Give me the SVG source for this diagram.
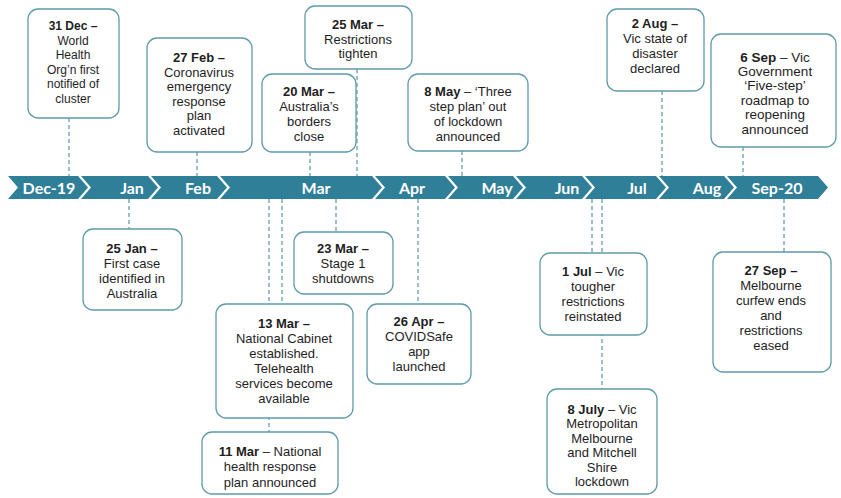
<svg xmlns="http://www.w3.org/2000/svg" width="841" height="498" viewBox="0 0 841 498">
<style>
.seg{fill:#2f7f98}
.mon{font-family:Lato,"Liberation Sans",sans-serif;font-weight:bold;font-size:16px;fill:#ffffff;text-anchor:middle}
.box{fill:#ffffff;stroke:#5f9aaa;stroke-width:1.3}
.t{font-family:"Liberation Sans",Arial,sans-serif;font-size:13px;fill:#1e1e1e;text-anchor:middle}
.b{font-weight:bold}
.c{stroke:#3a7f95;stroke-width:1;stroke-dasharray:4 3;fill:none}
</style>
<rect width="841" height="498" fill="#ffffff"/>
<g id="connectors">
<line class="c" x1="69" y1="118" x2="69" y2="176"/>
<line class="c" x1="197" y1="152" x2="197" y2="176"/>
<line class="c" x1="310" y1="152" x2="310" y2="176"/>
<line class="c" x1="357" y1="69" x2="357" y2="176"/>
<line class="c" x1="462" y1="151" x2="462" y2="176"/>
<line class="c" x1="662" y1="91" x2="662" y2="176"/>
<line class="c" x1="743" y1="147" x2="743" y2="176"/>
<line class="c" x1="129" y1="199" x2="129" y2="229"/>
<line class="c" x1="336" y1="199" x2="336" y2="232"/>
<line class="c" x1="269" y1="199" x2="269" y2="432"/>
<line class="c" x1="282" y1="199" x2="282" y2="304"/>
<line class="c" x1="418" y1="199" x2="418" y2="304"/>
<line class="c" x1="592" y1="199" x2="592" y2="253"/>
<line class="c" x1="602" y1="199" x2="602" y2="389"/>
<line class="c" x1="784" y1="199" x2="784" y2="252"/>
</g>
<g id="timeline">
<polygon class="seg" points="8,176 78,176 88,187.5 78,199 8,199 18,187.5"/>
<polygon class="seg" points="81,176 148,176 158,187.5 148,199 81,199 91,187.5"/>
<polygon class="seg" points="151,176 217,176 227,187.5 217,199 151,199 161,187.5"/>
<polygon class="seg" points="220,176 372,176 382,187.5 372,199 220,199 230,187.5"/>
<polygon class="seg" points="375,176 445,176 455,187.5 445,199 375,199 385,187.5"/>
<polygon class="seg" points="448,176 513,176 523,187.5 513,199 448,199 458,187.5"/>
<polygon class="seg" points="516,176 582,176 592,187.5 582,199 516,199 526,187.5"/>
<polygon class="seg" points="585,176 656,176 666,187.5 656,199 585,199 595,187.5"/>
<polygon class="seg" points="659,176 724,176 734,187.5 724,199 659,199 669,187.5"/>
<polygon class="seg" points="727,176 818,176 828,187.5 818,199 727,199 737,187.5"/>
<text class="mon" x="49" y="193.5">Dec-19</text>
<text class="mon" x="132" y="193.5">Jan</text>
<text class="mon" x="198" y="193.5">Feb</text>
<text class="mon" x="316" y="193.5">Mar</text>
<text class="mon" x="412" y="193.5">Apr</text>
<text class="mon" x="497" y="193.5">May</text>
<text class="mon" x="567" y="193.5">Jun</text>
<text class="mon" x="637" y="193.5">Jul</text>
<text class="mon" x="707" y="193.5">Aug</text>
<text class="mon" x="777" y="193.5">Sep-20</text>
</g>
<g id="n31dec">
<rect class="box" x="28" y="9" width="91" height="109" rx="10"/>
<text class="t" x="73" y="30" style="font-size:12px"><tspan class="b">31 Dec –</tspan><tspan x="73" dy="14.5">World</tspan><tspan x="73" dy="14.5">Health</tspan><tspan x="73" dy="14.5">Org’n first</tspan><tspan x="73" dy="14.5">notified of</tspan><tspan x="73" dy="14.5">cluster</tspan></text>
</g>
<g id="n27feb">
<rect class="box" x="147" y="38" width="105" height="114" rx="10"/>
<text class="t" x="199" y="62"><tspan class="b">27 Feb –</tspan><tspan x="199" dy="14.5">Coronavirus</tspan><tspan x="199" dy="14.5">emergency</tspan><tspan x="199" dy="14.5">response</tspan><tspan x="199" dy="14.5">plan</tspan><tspan x="199" dy="14.5">activated</tspan></text>
</g>
<g id="n20mar">
<rect class="box" x="262" y="74" width="94" height="78" rx="10"/>
<text class="t" x="309" y="95.5"><tspan class="b">20 Mar –</tspan><tspan x="309" dy="15">Australia’s</tspan><tspan x="309" dy="15">borders</tspan><tspan x="309" dy="15">close</tspan></text>
</g>
<g id="n25mar">
<rect class="box" x="305" y="6" width="107" height="63" rx="10"/>
<text class="t" x="358" y="28.5"><tspan class="b">25 Mar –</tspan><tspan x="358" dy="15">Restrictions</tspan><tspan x="358" dy="14.5">tighten</tspan></text>
</g>
<g id="n8may">
<rect class="box" x="408" y="74" width="120" height="77" rx="10"/>
<text class="t" x="468" y="95.5"><tspan class="b">8 May</tspan> – ‘Three<tspan x="468" dy="15">step plan’ out</tspan><tspan x="468" dy="15">of lockdown</tspan><tspan x="468" dy="15">announced</tspan></text>
</g>
<g id="n2aug">
<rect class="box" x="607" y="9" width="97" height="82" rx="10"/>
<text class="t" x="655" y="28"><tspan class="b">2 Aug –</tspan><tspan x="655" dy="15">Vic state of</tspan><tspan x="655" dy="15">disaster</tspan><tspan x="655" dy="15">declared</tspan></text>
</g>
<g id="n6sep">
<rect class="box" x="711" y="34" width="125" height="113" rx="10"/>
<text class="t" x="775" y="61.5" style="font-size:13.5px"><tspan class="b">6 Sep</tspan> – Vic<tspan x="775" dy="14.4">Government</tspan><tspan x="775" dy="14.4">‘Five-step’</tspan><tspan x="775" dy="14.4">roadmap to</tspan><tspan x="775" dy="14.4">reopening</tspan><tspan x="775" dy="14.4">announced</tspan></text>
</g>
<g id="n25jan">
<rect class="box" x="83" y="229" width="99" height="81" rx="10"/>
<text class="t" x="132" y="252.5"><tspan class="b">25 Jan –</tspan><tspan x="132" dy="15">First case</tspan><tspan x="132" dy="15">identified in</tspan><tspan x="132" dy="15">Australia</tspan></text>
</g>
<g id="n23mar">
<rect class="box" x="294" y="232" width="99" height="62" rx="10"/>
<text class="t" x="343" y="252.5"><tspan class="b">23 Mar –</tspan><tspan x="343" dy="15">Stage 1</tspan><tspan x="343" dy="15">shutdowns</tspan></text>
</g>
<g id="n13mar">
<rect class="box" x="216" y="304" width="137" height="114" rx="10"/>
<text class="t" x="284" y="327.5"><tspan class="b">13 Mar –</tspan><tspan x="284" dy="15">National Cabinet</tspan><tspan x="284" dy="15">established.</tspan><tspan x="284" dy="15">Telehealth</tspan><tspan x="284" dy="15">services become</tspan><tspan x="284" dy="15">available</tspan></text>
</g>
<g id="n11mar">
<rect class="box" x="202" y="432" width="136" height="62" rx="10"/>
<text class="t" x="270" y="455.5"><tspan class="b">11 Mar</tspan> – National<tspan x="270" dy="15.5">health response</tspan><tspan x="270" dy="15.5">plan announced</tspan></text>
</g>
<g id="n26apr">
<rect class="box" x="367" y="304" width="104" height="80" rx="10"/>
<text class="t" x="419" y="325.5"><tspan class="b">26 Apr –</tspan><tspan x="419" dy="15">COVIDSafe</tspan><tspan x="419" dy="15">app</tspan><tspan x="419" dy="15">launched</tspan></text>
</g>
<g id="n1jul">
<rect class="box" x="540" y="253" width="107" height="82" rx="10"/>
<text class="t" x="593" y="275.5"><tspan class="b">1 Jul</tspan> – Vic<tspan x="593" dy="15">tougher</tspan><tspan x="593" dy="15">restrictions</tspan><tspan x="593" dy="15">reinstated</tspan></text>
</g>
<g id="n8jul">
<rect class="box" x="547" y="389" width="110" height="105" rx="10"/>
<text class="t" x="602" y="413.5"><tspan class="b">8 July</tspan> – Vic<tspan x="602" dy="14.5">Metropolitan</tspan><tspan x="602" dy="14.5">Melbourne</tspan><tspan x="602" dy="14.5">and Mitchell</tspan><tspan x="602" dy="14.5">Shire</tspan><tspan x="602" dy="14.5">lockdown</tspan></text>
</g>
<g id="n27sep">
<rect class="box" x="713" y="252" width="118" height="120" rx="10"/>
<text class="t" x="771" y="274.5"><tspan class="b">27 Sep –</tspan><tspan x="771" dy="15">Melbourne</tspan><tspan x="771" dy="15">curfew ends</tspan><tspan x="771" dy="15">and</tspan><tspan x="771" dy="15">restrictions</tspan><tspan x="771" dy="15">eased</tspan></text>
</g>
</svg>
